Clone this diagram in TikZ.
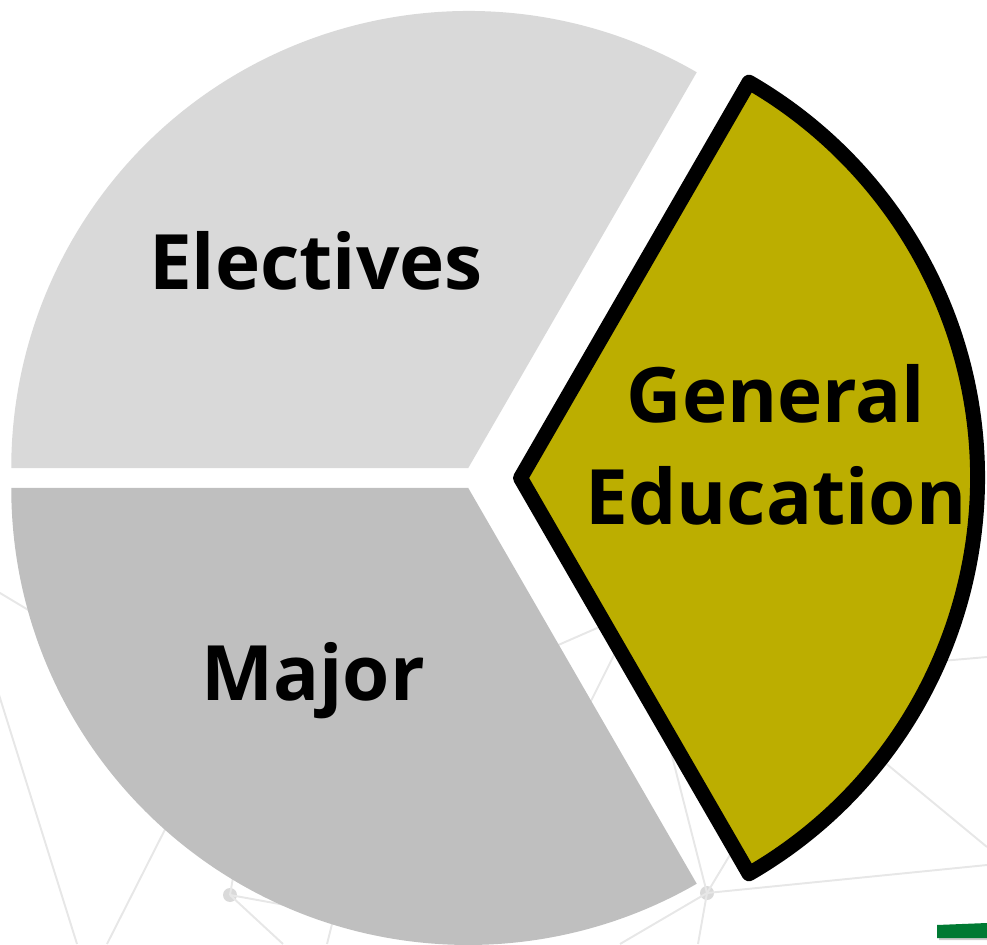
\documentclass[tikz,border=0pt]{standalone}
\usepackage{fontspec}
\setmainfont{Open Sans}
\usepackage{tikz}
\usetikzlibrary{calc}
\definecolor{electgray}{RGB}{217,217,217}
\definecolor{majorgray}{RGB}{191,191,191}
\definecolor{genedolive}{RGB}{188,174,0}
\definecolor{netgray}{RGB}{231,231,231}
\definecolor{netdotgray}{RGB}{218,218,218}
\definecolor{bargreen}{RGB}{0,122,51}

\begin{document}
\begin{tikzpicture}[x=0.02cm,y=0.02cm,
  net/.style={draw=netgray,line width=1.1pt},
  netdot/.style={circle,fill=netdotgray,inner sep=0pt,minimum size=0.28cm},
  slicelabel/.style={font=\fontsize{43.5}{52}\selectfont\bfseries,anchor=base,inner sep=0pt}]
\useasboundingbox (0,0) rectangle (987,944);
\coordinate (pie) at (474,466);
% faint network behind the chart
\node[netdot] (dotw) at (230,49) {};
\node[netdot] (dote) at (707,51) {};
\draw[net] (-5,354) -- (100,291);
\draw[net] (-5,262) -- (77,0);
\draw[net] (185,154) -- (107,0);
\draw[net] (dotw.center) -- (283,0);
\draw[net] (dotw.center) -- (236,84);
\draw[net] (dotw.center) -- (285,39);
\draw[net] (327,0) -- (337,40);
\draw[net] (dote.center) -- (987,79);
\draw[net] (dote.center) -- (698,0);
\draw[net] (dote.center) -- (620,0);
\draw[net] (dote.center) -- (650,274);
\draw[net] (dote.center) -- (745,114);
\draw[net] (580,221) -- (625,311);
\draw[net] (540,291) -- (620,326);
\draw[net] (860,202) -- (987,97);
\draw[net] (930,282) -- (987,287);
% pie slices
\fill[electgray] ($(pie)+(120:11.5)$) -- ++(60:457) arc[start angle=60,end angle=180,radius=457] -- cycle;
\fill[majorgray] ($(pie)+(240:11.5)$) -- ++(180:457) arc[start angle=180,end angle=300,radius=457] -- cycle;
\filldraw[fill=genedolive,draw=black,line width=8.5pt,line join=round] ($(pie)+(0:46.5)$) -- ++(-60:457) arc[start angle=-60,end angle=60,radius=457] -- cycle;
\node[slicelabel] (electives) at (316,654) {Electives};
\node[slicelabel] (major) at (313,244) {Major};
\node[slicelabel] (general) at (776,521) {General};
\node[slicelabel] (education) at (776,419) {Education};
% green bar, bottom right
\fill[black!20] (939,4) -- (987,4) -- (987,19) -- (939,17) -- cycle;
\fill[bargreen] (937,6) -- (987,6) -- (987,21) -- (937,19) -- cycle;
\end{tikzpicture}
\end{document}
